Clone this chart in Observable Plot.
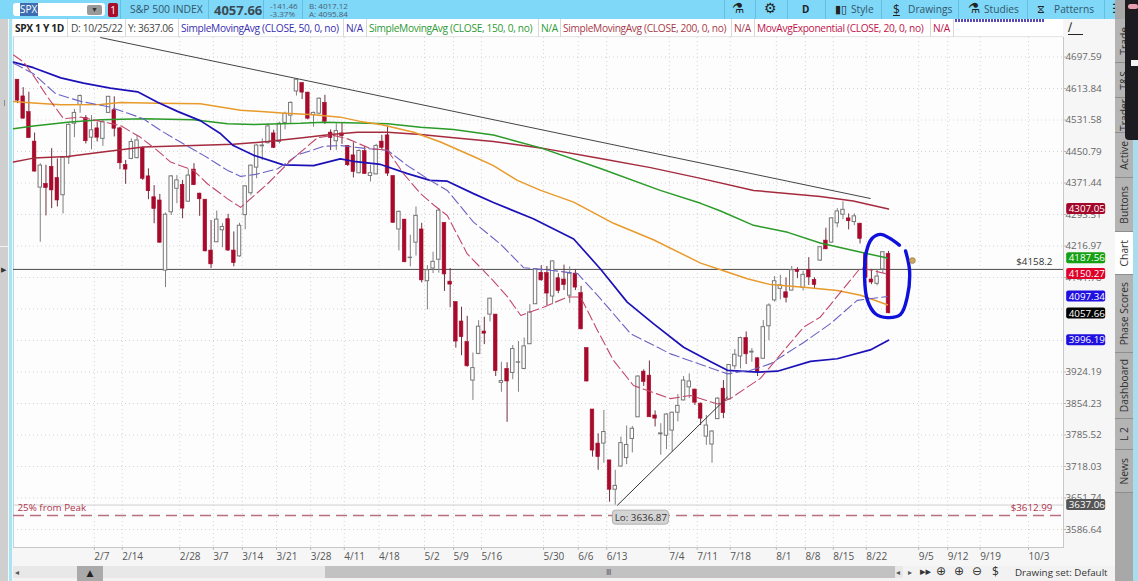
<!DOCTYPE html>
<html><head><meta charset="utf-8">
<script src="https://cdn.jsdelivr.net/npm/d3@7"></script>
<script src="https://cdn.jsdelivr.net/npm/@observablehq/plot@0.6"></script>
<style>
html,body{margin:0;padding:0;background:#f6f6f6;overflow:hidden}
#page{position:relative;width:1138px;height:581px;overflow:hidden;font-family:"Open Sans",sans-serif;color:#444}
#chart{position:absolute;left:0;top:0}
#chart svg{display:block}
.a{position:absolute;white-space:nowrap}
.tb{font-size:10.2px;color:#33566b;line-height:13px}
.st{font-size:10.2px;line-height:18px;top:19px;letter-spacing:-.34px}
.sep{position:absolute;width:1px;background:#d8d8d8;top:19px;height:18px}
.sept{position:absolute;width:1px;background:#62bfe0;top:0;height:19px}
.tab{position:absolute;left:1115px;width:18px;background:#b4b4b4;border-bottom:1px solid #8e8e8e;box-sizing:border-box;display:flex;align-items:center;justify-content:center}
.tab span{writing-mode:vertical-rl;transform:rotate(180deg);font-size:10.3px;color:#333;white-space:nowrap}
</style></head>
<body><div id="page">
<div class="a" style="left:0;top:0;width:8px;height:581px;background:#cfcfcf"></div>
<div class="a" style="left:0;top:246px;width:8px;height:1px;background:#f4f4f4"></div>
<div class="a" style="left:4px;top:100px;width:1px;height:6px;background:#8a8a8a"></div>
<div class="a" style="left:1px;top:266px;font-size:7px;line-height:8px;color:#333">▶</div>
<div class="a" style="left:9px;top:0;width:3px;height:581px;background:#a9e4f5"></div>
<div id="chart"></div>
<!-- toolbar -->
<div class="a" style="left:0;top:0;width:1138px;height:19px;background:#7fd8f8"></div>
<div class="a" style="left:13px;top:3px;width:92px;height:13px;background:#fff;border-radius:3px"></div>
<div class="a" style="left:20px;top:3px;width:18px;height:13px;background:#3d6cb0;color:#fff;font-size:10px;line-height:13px">SPX</div>
<div class="a" style="left:87px;top:5px;width:15px;height:10px;background:#999;border-radius:2px;color:#333;font-size:7px;line-height:10px;text-align:center">▼</div>
<div class="a" style="left:108px;top:3px;width:10px;height:14px;background:#a80d2a;border-radius:2px;color:#fff;font-size:10px;line-height:14px;text-align:center">1</div>
<div class="sept" style="left:120px"></div>
<div class="a tb" style="left:130px;top:3px;font-size:10.4px;">S&amp;P 500 INDEX</div>
<div class="sept" style="left:208px"></div>
<div class="a" style="left:214px;top:1px;font-size:13px;font-weight:700;color:#3a4a55;line-height:18px">4057.66</div>
<div class="sept" style="left:263px"></div>
<div class="a" style="left:270px;top:2px;font-size:8px;line-height:8px;color:#4a6070">-141.46<br>-3.37%</div>
<div class="sept" style="left:302px"></div>
<div class="a" style="left:309px;top:2px;font-size:8px;line-height:8px;color:#4a6070">B: 4017.12<br>A: 4095.84</div>
<div class="sept" style="left:724px"></div><div class="sept" style="left:755px"></div><div class="sept" style="left:787px"></div><div class="sept" style="left:825px"></div><div class="sept" style="left:881px"></div><div class="sept" style="left:958px"></div><div class="sept" style="left:1027px"></div><div class="sept" style="left:1104px"></div>
<div class="a tb" style="left:732px;top:2px;font-family:'DejaVu Sans';font-size:14px;color:#222">⚗</div>
<div class="a tb" style="left:764px;top:2px;font-family:'DejaVu Sans';font-size:14px;color:#222">⚙</div>
<div class="a tb" style="left:802px;top:3px;font-weight:700;font-size:10px;color:#222">D</div>
<div class="a tb" style="left:835px;top:3px;font-family:'DejaVu Sans';font-size:11px;color:#222">▮▯</div>
<div class="a tb" style="left:851px;top:3px;">Style</div>
<div class="a tb" style="left:893px;top:3px;font-size:12px;color:#222;text-decoration:underline">$</div>
<div class="a tb" style="left:908px;top:3px;">Drawings</div>
<div class="a tb" style="left:968px;top:2px;font-family:'DejaVu Sans';font-size:14px;color:#222">⚗</div>
<div class="a tb" style="left:984px;top:3px;">Studies</div>
<div class="a tb" style="left:1037px;top:3px;font-family:'DejaVu Sans';font-size:11px;color:#222">⧖</div>
<div class="a tb" style="left:1054px;top:3px;">Patterns</div>
<div class="a tb" style="left:1112px;top:2px;font-family:'DejaVu Sans';font-size:13px;color:#222">☰</div>
<!-- study row -->
<div class="a" style="left:13px;top:19px;width:1050px;height:18px;background:#fff;border-bottom:1px solid #e6e6e6;box-sizing:border-box"></div>
<div class="a" style="left:955px;top:19px;width:90px;height:3px;background:repeating-linear-gradient(90deg,#5a4ab0 0 2px,#fff 2px 3px)"></div>
<div class="a st" style="left:15px;font-weight:700;color:#222">SPX 1 Y 1D</div><div class="sep" style="left:67px"></div>
<div class="a st" style="left:71px">D: 10/25/22</div><div class="sep" style="left:125px"></div>
<div class="a st" style="left:128px">Y: 3637.06</div><div class="sep" style="left:178px"></div>
<div class="a st" style="left:181px;color:#3a2fb0">SimpleMovingAvg (CLOSE, 50, 0, no)</div><div class="sep" style="left:343px"></div>
<div class="a st" style="left:346px;color:#3a2fb0">N/A</div><div class="sep" style="left:366px"></div>
<div class="a st" style="left:369px;color:#2e9a35">SimpleMovingAvg (CLOSE, 150, 0, no)</div><div class="sep" style="left:538px"></div>
<div class="a st" style="left:541px;color:#2e9a35">N/A</div><div class="sep" style="left:560px"></div>
<div class="a st" style="left:563px;color:#a83a4a">SimpleMovingAvg (CLOSE, 200, 0, no)</div><div class="sep" style="left:731px"></div>
<div class="a st" style="left:734px;color:#a83a4a">N/A</div><div class="sep" style="left:754px"></div>
<div class="a st" style="left:757px;color:#c0144a">MovAvgExponential (CLOSE, 20, 0, no)</div><div class="sep" style="left:930px"></div>
<div class="a st" style="left:933px;color:#c0144a">N/A</div><div class="sep" style="left:953px"></div>
<div class="a" style="left:1068px;top:20px;width:15px;height:15px;font-family:'DejaVu Sans';font-size:12px;line-height:14px;color:#222;border-bottom:1px solid #222;box-sizing:border-box">∕</div>
<!-- right tabs -->
<div class="a" style="left:1115px;top:0;width:18px;height:581px;background:#a8a8a8"></div>
<div class="tab" style="top:19px;height:44px"><span>Trade</span></div>
<div class="tab" style="top:63px;height:35px"><span>T&amp;S</span></div>
<div class="tab" style="top:98px;height:35px;overflow:hidden"><span>Trader</span></div>
<div class="tab" style="top:133px;height:45px"><span>Active</span></div>
<div class="tab" style="top:178px;height:54px"><span>Buttons</span></div>
<div class="tab" style="top:232px;height:43px;background:#fff"><span>Chart</span></div>
<div class="tab" style="top:275px;height:78px"><span>Phase Scores</span></div>
<div class="tab" style="top:353px;height:66px"><span>Dashboard</span></div>
<div class="tab" style="top:419px;height:31px"><span>L 2</span></div>
<div class="tab" style="top:450px;height:43px"><span>News</span></div>
<div class="a" style="left:1125px;top:0;width:13px;height:140px;background:#1c1c20;border-radius:0 0 0 4px"></div>
<div class="a" style="left:1131px;top:60px;width:7px;height:6px;background:#f4f4f4"></div>
<div class="a" style="left:1128px;top:4px;width:10px;height:5px;background:#e8a0b0;border-radius:3px"></div>
<div class="a" style="left:1133px;top:140px;width:5px;height:441px;background:#a9dcec"></div>
<!-- bottom bar -->
<div class="a" style="left:13px;top:566px;width:1102px;height:15px;background:#f2f2f2"></div>
<div class="a" style="left:13px;top:566px;width:890px;height:12px;background:#e8e8e8"></div>
<div class="a" style="left:15px;top:566px;font-size:8px;line-height:12px;color:#555">◂</div>
<div class="a" style="left:77px;top:566px;width:26px;height:15px;background:#aaa;color:#222;font-size:9px;line-height:15px;text-align:center;font-family:'DejaVu Sans'">▲</div>
<div class="a" style="left:325px;top:566px;width:570px;height:12px;background:#c2c2c2"></div>
<div class="a" style="left:606px;top:566px;font-size:8px;line-height:12px;color:#666">Ⅲ</div>
<div class="a" style="left:896px;top:566px;font-size:8px;line-height:12px;color:#555">◂</div>
<div class="a" style="left:908px;top:566px;font-size:8px;line-height:12px;color:#555">▸</div>
<div class="a" style="left:920px;top:564px;font-family:'DejaVu Sans';font-size:11px;line-height:15px;color:#333">▸▸</div>
<div class="a" style="left:936px;top:564px;font-family:'DejaVu Sans';font-size:12px;line-height:15px;color:#333">⊕</div>
<div class="a" style="left:954px;top:564px;font-family:'DejaVu Sans';font-size:12px;line-height:15px;color:#333">⊕</div>
<div class="a" style="left:972px;top:564px;font-family:'DejaVu Sans';font-size:12px;line-height:15px;color:#333">⊖</div>
<div class="a" style="left:992px;top:564px;font-size:12px;line-height:15px;color:#333">$</div>
<div class="a" style="left:1015px;top:565px;font-size:9.8px;line-height:15px;color:#333">Drawing set: Default</div>
</div>
<script>
const opens=[4637,4593,4552,4476,4360,4369,4412,4384,4341,4435,
4522,4571,4537,4486,4510,4483,4550,4557,4510,4417,
4432,4434,4460,4388,4336,4328,4158,4299,4357,4367,
4325,4405,4345,4330,4206,4226,4255,4282,4206,4192,
4292,4346,4410,4464,4472,4497,4475,4524,4543,4606,
4628,4603,4544,4548,4576,4499,4477,4497,4465,4441,
4396,4452,4389,4393,4476,4492,4389,4257,4281,4188,
4225,4257,4133,4163,4184,4273,4132,4084,4039,3992,
3905,3965,4016,4055,4055,3900,3931,3922,3945,3931,
3987,4079,4153,4152,4097,4140,4137,4099,4151,4105,
3978,3841,3767,3767,3731,3669,3718,3736,3777,3824,
3925,3916,3828,3787,3784,3795,3834,3861,3890,3885,
3854,3782,3765,3820,3887,3863,3937,3959,4001,3968,
3955,3954,4028,4088,4115,4107,4111,4160,4117,4159,
4136,4182,4230,4225,4272,4293,4284,4275,4271,4200,
4137,4127,4161,4198];
const highs=[4637,4616,4604,4498,4420,4416,4458,4432,4437,4522,
4559,4597,4543,4543,4526,4532,4593,4592,4513,4428,
4483,4492,4462,4407,4365,4343,4297,4390,4390,4378,
4405,4420,4346,4330,4279,4302,4271,4294,4251,4272,
4365,4416,4468,4483,4522,4505,4526,4552,4579,4640,
4629,4604,4552,4589,4596,4506,4522,4524,4466,4473,
4455,4464,4416,4469,4492,4516,4389,4302,4281,4243,
4312,4272,4170,4202,4308,4273,4163,4084,4072,4051,
3967,4041,4049,4093,4055,3946,3945,3984,3993,4001,
4078,4163,4170,4168,4181,4151,4171,4167,4160,4121,
3978,3841,3788,3839,3731,3710,3781,3805,3804,3916,
3929,3949,3838,3810,3832,3835,3874,3914,3920,3886,
3855,3828,3795,3867,3905,3941,3975,4003,4015,3977,
3956,4041,4080,4144,4147,4141,4168,4165,4157,4189,
4141,4216,4260,4285,4308,4325,4295,4295,4272,4203,
4161,4161,4202,4204];
const lows=[4574,4534,4484,4399,4226,4290,4308,4312,4295,4418,
4486,4549,4470,4455,4475,4464,4548,4488,4405,4368,
4430,4432,4378,4330,4271,4223,4118,4291,4320,4283,
4324,4365,4289,4203,4163,4225,4213,4204,4167,4190,
4256,4340,4382,4428,4470,4458,4470,4506,4523,4594,
4585,4532,4513,4545,4520,4453,4453,4469,4413,4384,
4394,4393,4374,4392,4455,4388,4272,4205,4177,4167,
4193,4129,4066,4151,4152,4109,4071,3978,3961,3935,
3861,3963,3986,4038,3914,3879,3813,3907,3879,3929,
3986,4079,4133,4076,4078,4104,4111,4081,4111,4020,
3902,3738,3710,3725,3643,3637,3717,3722,3747,3824,
3892,3824,3803,3742,3754,3749,3814,3860,3865,3850,
3806,3763,3725,3819,3821,3862,3930,3931,3941,3946,
3914,3953,3995,4084,4089,4082,4110,4139,4110,4123,
4114,4180,4208,4224,4261,4281,4256,4266,4222,4139,
4125,4122,4151,4057];
const closes=[4582,4535,4485,4400,4415,4359,4353,4328,4435,4519,
4550,4594,4477,4505,4486,4526,4592,4509,4421,4405,
4475,4479,4382,4351,4307,4225,4293,4388,4378,4308,
4390,4366,4331,4204,4173,4281,4263,4206,4176,4266,
4363,4415,4466,4466,4515,4460,4522,4547,4576,4637,
4603,4535,4550,4587,4527,4485,4503,4490,4416,4399,
4452,4394,4396,4465,4460,4395,4273,4300,4178,4189,
4290,4135,4159,4179,4303,4149,4125,3993,4003,3937,
3933,4027,4011,4092,3926,3904,3903,3976,3946,3982,
4060,4161,4135,4104,4180,4110,4124,4151,4118,4021,
3903,3752,3738,3792,3669,3677,3768,3764,3799,3914,
3902,3824,3821,3789,3830,3834,3849,3905,3903,3856,
3821,3806,3793,3865,3833,3940,3963,4001,3964,3970,
3924,4026,4076,4133,4123,4094,4159,4155,4148,4142,
4124,4214,4209,4284,4301,4305,4277,4289,4234,4141,
4130,4144,4202,4058];

const sma50Bar=[0.3,3.8,8.6,12.6,17.3,22.1,25.6,29.1,33.1,36.7,38.9,42.5,47.7,53,57.7,60,64.8,69.5,73.5,76.5,81.1,84.6,91.6,98.7,103.4,108.1,112.7,118,122.7,125.7,131,134.5,140.3,145,150.8,154];
const sma50=[4684,4669,4642,4628,4615,4605,4578,4554,4530,4496,4466,4441,4417,4415,4432,4426,4418,4395,4378,4376,4345,4323,4283,4234,4162,4084,4034,3980,3948,3928,3924,3926,3948,3954,3974,3996];
const sma150Bar=[0.3,3.8,9.8,15.6,23.1,31.9,37.9,42.5,50.7,54.8,60.7,66,71.8,77.6,84.6,88.1,92.9,103.4,113.9,121,124.5,130.3,136.3,142,147.8,153.8];
const sma150=[4509,4516,4526,4532,4535,4532,4522,4520,4523,4526,4524,4522,4513,4507,4493,4479,4460,4408,4353,4321,4302,4267,4250,4224,4206,4188];
const sma200Bar=[0.3,3.8,9.8,15.6,23.1,31.9,38.9,44.9,50.7,56,60.7,66,71.8,77.6,84.6,92.9,103.4,112.2,121,130.3,142,147.8,154];
const sma200=[4424,4434,4438,4449,4462,4466,4469,4476,4485,4494,4500,4500,4494,4486,4476,4460,4433,4410,4383,4353,4338,4327,4307];
const orangeBar=[0.3,3.8,8.6,15.6,19.1,25.6,33.1,40.2,48.1,53,57.7,61.2,64.8,70.6,75.3,81.1,84.6,88.8,92.9,98.7,105.7,112.7,121,124.5,129.2,133.3,139.1,145,149.1,153.8];
const orange=[4580,4576,4571,4572,4577,4575,4574,4557,4549,4545,4539,4528,4520,4500,4475,4438,4415,4378,4353,4324,4272,4232,4176,4160,4139,4125,4119,4111,4100,4078];
const dashBlueBar=[0.3,3.8,7.7,12.1,17.3,23.1,26.1,29.6,33.7,37.9,40.2,42.8,46.7,50.2,54.8,57.7,62.5,66,69.5,73.5,76.5,81.1,85.8,89.9,94.6,99.4,103.4,108.7,115.7,121.5,125.7,129.8,133.3,139.1,143.8,148.5,153.8];
const dashBlue=[4681,4653,4600,4580,4565,4535,4505,4475,4441,4403,4388,4393,4407,4442,4464,4466,4458,4454,4415,4378,4353,4275,4222,4165,4159,4151,4092,4011,3965,3939,3920,3928,3943,3991,4034,4088,4097];
const emaBar=[0.3,2.1,3.8,6.3,9.1,12.1,15,19.1,22.6,25.6,27.9,31.9,34.4,37.9,40.2,44.9,49,53.7,56.5,59,63,66,68.8,71.8,74.1,76.5,80,84.1,87.1,89.4,93.4,97.6,99.9,102.9,105.7,109.2,115.7,119.2,124,126.2,131.5,139.1,142,149.1,153.8];
const ema=[4703,4684,4648,4591,4535,4539,4530,4517,4487,4453,4424,4403,4369,4332,4311,4369,4428,4486,4492,4483,4458,4454,4395,4345,4317,4291,4198,4141,4096,4053,4072,4096,4096,4018,3950,3894,3865,3872,3853,3865,3910,4026,4049,4165,4150];

const penBar=[155.9,154.3,152.6,151.1,150.1,149.8,150.3,151.7,153.8,156.1,157.3,157.7,157.0];
const penPrice=[4219,4235,4245,4235,4202,4142,4088,4057,4048,4055,4096,4158,4205];

const gridTicks=[4697.59,4613.84,4531.58,4450.79,4371.44,4293.51,4216.97,4141.78,4067.9,3995.3,3924.19,3854.23,3785.52,3718.03,3651.74,3586.64];
const priceTicks=[4697.59,4613.84,4531.58,4450.79,4371.44,4293.51,4216.97,4141.78,3924.19,3854.23,3785.52,3718.03,3651.74,3586.64];
const dateBars=[14.5,19.4,29.5,35.4,40.5,46.5,52.5,58.4,64.5,72.5,77.6,82.5,93.4,99.5,104.5,115.5,120.4,126.2,134.3,139.4,144.3,150.1,159.3,164.4,170.1,178.6];
const dateLabels=["2/7","2/14","2/28","3/7","3/14","3/21","3/28","4/11","4/18","5/2","5/9","5/16","5/30","6/6","6/13","7/4","7/11","7/18","8/1","8/8","8/15","8/22","9/5","9/12","9/19","10/3"];
const tagValues=[4307.05,4187.56,4150.27,4097.34,4057.66,3996.19,3637.06];
const tagLabels=["4307.05","4187.56","4150.27","4097.34","4057.66","3996.19","3637.06"];
const tagFills=["#a3082a","#14a012","#e0002a","#2010e0","#000000","#2010e0","#555555"];

const W=1138,H=581;
const bars=opens.map((o,i)=>({i:i+1,o,h:highs[i],l:lows[i],c:closes[i],up:closes[i]>=o}));
const lineOf=(xs,ys,opt)=>Plot.lineY(ys,{x:xs,y:d=>d,...opt});
const dateOf=new Map(dateBars.map((b,i)=>[b,dateLabels[i]]));
const tagBar=185.3;

const svg=Plot.plot({
  width:W,height:H,marginLeft:13,marginRight:75,marginTop:37,marginBottom:34,
  style:{background:"transparent",fontFamily:"'Open Sans',sans-serif"},
  x:{type:"linear",domain:[1,154],range:[17,888],axis:null},
  y:{type:"log",domain:[3586.64,4697.59],range:[529,56.5],axis:null},
  marks:[
    Plot.frame({fill:"#fdfdfd",stroke:null}),
    Plot.ruleX(dateBars,{stroke:"#d4d4d4",strokeDasharray:"1,3"}),
    Plot.ruleY(gridTicks,{stroke:"#d4d4d4",strokeDasharray:"1,3"}),
    Plot.frame({anchor:"left",stroke:"#a9dcec",strokeWidth:1}),
    Plot.frame({anchor:"bottom",stroke:"#c8c8c8"}),
    Plot.frame({anchor:"right",stroke:"#c8c8c8"}),
    Plot.axisX(dateBars,{anchor:"bottom",tickSize:3,tickPadding:2,fontSize:10,textAnchor:"start",dx:0,stroke:"#bbb",color:"#555",tickFormat:d=>dateOf.get(d),label:null}),
    Plot.axisY(priceTicks,{anchor:"right",tickSize:2,tickPadding:0,fontSize:9.8,stroke:"#bbb",color:"#666",tickFormat:d3.format(".2f"),label:null}),
    // cursor, resistance and 25% lines
    Plot.ruleY([3637.06],{stroke:"#cfcfcf"}),
    Plot.ruleY([4161],{stroke:"#4a4a4a",strokeWidth:1}),
    Plot.ruleY([3615.5],{stroke:"#b8707f",strokeWidth:1.4,strokeDasharray:"11,6"}),
    // candles
    Plot.ruleX(bars,{x:"i",y1:"l",y2:"h",stroke:d=>d.up?"#808080":"#70303c",strokeWidth:1}),
    Plot.rect(bars.filter(d=>d.up),{x1:d=>d.i-.3,x2:d=>d.i+.3,y1:"o",y2:"c",fill:"#fdfdfd",stroke:"#777",strokeWidth:1}),
    Plot.rect(bars.filter(d=>!d.up),{x1:d=>d.i-.32,x2:d=>d.i+.32,y1:"o",y2:"c",fill:"#a80a2c",stroke:"#a80a2c",strokeWidth:.6}),
    // averages
    lineOf(sma200Bar,sma200,{stroke:"#a52a3e",strokeWidth:1.5}),
    lineOf(sma150Bar,sma150,{stroke:"#2a9a28",strokeWidth:1.5}),
    lineOf(orangeBar,orange,{stroke:"#e89a2a",strokeWidth:1.5}),
    lineOf(sma50Bar,sma50,{stroke:"#1c10b8",strokeWidth:1.7}),
    lineOf(dashBlueBar,dashBlue,{stroke:"#6a62c4",strokeWidth:1.1,strokeDasharray:"10,4"}),
    lineOf(emaBar,ema,{stroke:"#c2486a",strokeWidth:1.1,strokeDasharray:"10,4"}),
    // trend lines
    Plot.line([[15.6,4750],[150.8,4333]],{stroke:"#444",strokeWidth:1}),
    Plot.line([[106.4,3636.87],[125.7,3868]],{stroke:"#333",strokeWidth:1}),
    // pen annotation
    Plot.lineY(penPrice,{x:penBar,y:d=>d,stroke:"#1010dc",strokeWidth:3.4,curve:"catmull-rom",strokeLinecap:"round"}),
    Plot.dot([[158.2,4182]],{r:3,fill:"#c8a860",stroke:"#8a6a30",strokeWidth:.5}),
    // text annotations
    Plot.text(["$4158.2"],{x:[182.8],y:[4161],textAnchor:"end",dy:-8,fontSize:9.8,fill:"#333"}),
    Plot.text(["25% from Peak"],{x:[1],y:[3615.5],textAnchor:"start",dy:-8,fontSize:9.8,fill:"#b0344c"}),
    Plot.text(["$3612.99"],{x:[182.8],y:[3615.5],textAnchor:"end",dy:-8,fontSize:9.8,fill:"#b0344c"}),
    // low callout
    Plot.rect([3636.87],{x1:[110.5],x2:[110.5],y1:[3611],y2:[3611],insetLeft:-28,insetRight:-28,insetTop:-7,insetBottom:-7,rx:3,fill:"#d4d4d4",stroke:"#b0b0b0"}),
    Plot.text(["Lo: 3636.87"],{x:[110.5],y:[3611],fontSize:9.8,fill:"#333"}),
    // right price tags
    Plot.rect(tagValues,{x1:tagValues.map(()=>tagBar),x2:tagValues.map(()=>tagBar),y1:d=>d,y2:d=>d,insetLeft:0,insetRight:-39,insetTop:-5.5,insetBottom:-5.5,rx:2,fill:(d,i)=>tagFills[i]}),
    Plot.text(tagLabels,{x:tagValues.map(()=>tagBar),y:tagValues,dx:2,textAnchor:"start",fontSize:9.8,fill:"#fff"})
  ]
});
document.getElementById("chart").appendChild(svg);
</script>
</body></html>
